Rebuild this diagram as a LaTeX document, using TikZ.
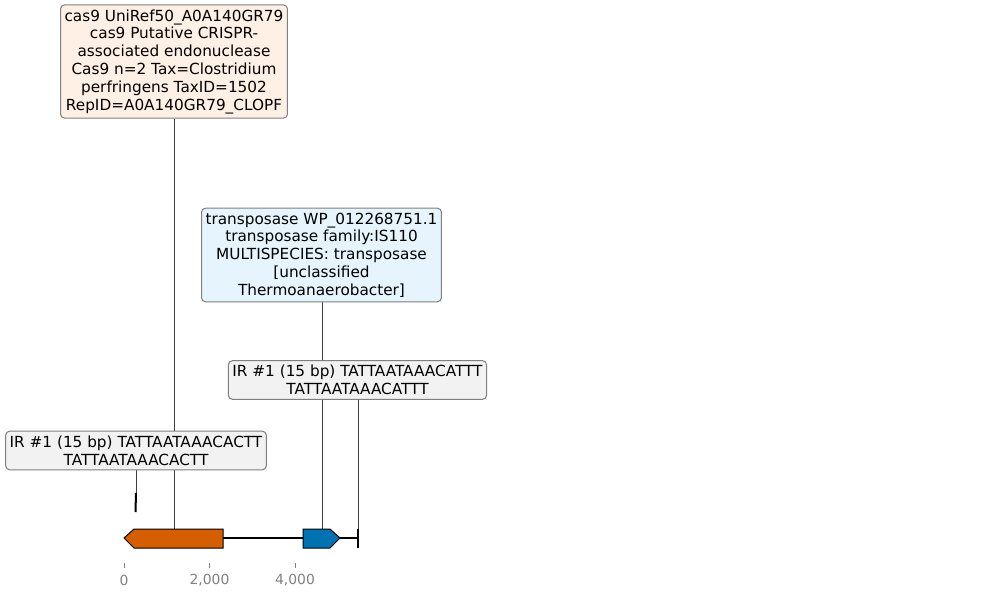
\documentclass[tikz,border=0pt]{standalone}
\usepackage{fontspec}
\setmainfont{DejaVu Sans}
\usetikzlibrary{backgrounds}
\definecolor{geneorange}{HTML}{D55E00}
\definecolor{geneblue}{HTML}{0072B2}
\definecolor{fillorange}{HTML}{FFF0E5}
\definecolor{fillblue}{HTML}{E5F4FD}
\definecolor{fillgrey}{HTML}{F2F2F2}
\definecolor{boxedge}{HTML}{7F7F7F}
\definecolor{linkgrey}{HTML}{3F3F3F}
\definecolor{axisgrey}{HTML}{808080}
\tikzset{
  labelbox/.style={draw=boxedge, line width=1pt, rounded corners=4pt, align=center,
    inner xsep=4pt, inner ysep=4.5pt, font=\fontsize{15.28}{17.8}\selectfont},
  link/.style={draw=linkgrey, line width=0.7pt},
  gene/.style={draw=black, line width=1pt},
  irmark/.style={draw=black, line width=2pt},
  tickmark/.style={draw=axisgrey, line width=0.8pt},
  ticklabel/.style={text=axisgrey, font=\fontsize{13.9}{16}\selectfont, inner sep=0pt}
}
\begin{document}
\begin{tikzpicture}[x=1pt, y=-1pt]
\useasboundingbox (0,0) rectangle (988,597);
% feature anchor points
\coordinate (cas9top) at (174,529);
\coordinate (tptop) at (322,529);
\coordinate (irRtop) at (358,529);
\coordinate (irLtop) at (136,493);
% labels
\node[labelbox, fill=fillorange] (cas9) at (174,61.5) {cas9 UniRef50\_A0A140GR79\\cas9 Putative CRISPR-\\associated endonuclease\\Cas9 n=2 Tax=Clostridium\\perfringens TaxID=1502\\RepID=A0A140GR79\_CLOPF};
\node[labelbox, fill=fillblue] (tp) at (321.5,255) {transposase WP\_012268751.1\\transposase family:IS110\\MULTISPECIES: transposase\\{[}unclassified\\Thermoanaerobacter{]}};
\node[labelbox, fill=fillgrey] (irR) at (357.5,380) {IR \#1 (15 bp) TATTAATAAACATTT\\TATTAATAAACATTT};
\node[labelbox, fill=fillgrey] (irL) at (136,450.5) {IR \#1 (15 bp) TATTAATAAACACTT\\TATTAATAAACACTT};
\begin{scope}[on background layer]
\draw[link] (cas9top |- cas9.south) -- (cas9top);
\draw[link] (tptop |- tp.south) -- (tptop);
\draw[link] (irRtop |- irR.south) -- (irRtop);
\draw[link] (irLtop |- irL.south) -- (irLtop);
\end{scope}
% baseline
\draw[line width=2pt] (130,538) -- (358,538);
% genes
\draw[gene, fill=geneorange] (124,538) -- (134,529) -- (223,529) -- (223,548) -- (134,548) -- cycle;
\draw[gene, fill=geneblue] (303,529) -- (330,529) -- (340,538) -- (330,548) -- (303,548) -- cycle;
% inverted repeat marks
\draw[irmark] (irRtop) -- (358,548);
\draw[irmark] (irLtop) -- (135.5,512);
% axis
\foreach \x/\t in {124/0, 209.5/{2,000}, 295/{4,000}} {
  \draw[tickmark] (\x,563) -- (\x,568);
  \node[ticklabel] at (\x,580) {\t};
}
\end{tikzpicture}
\end{document}
